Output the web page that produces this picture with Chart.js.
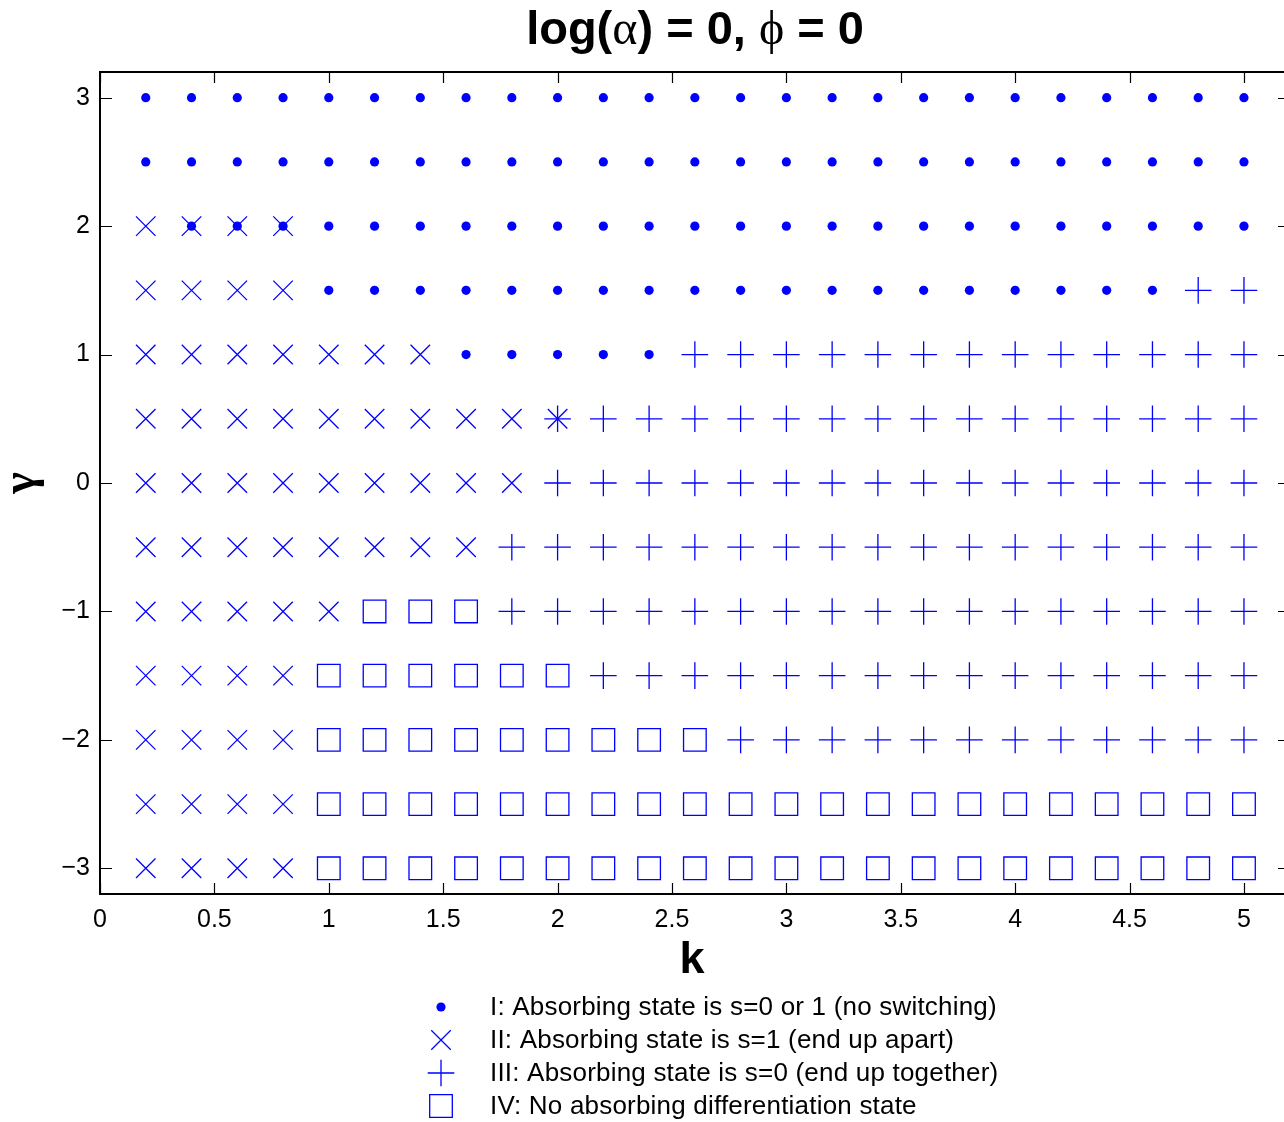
<!DOCTYPE html>
<html>
<head>
<meta charset="utf-8">
<script src="https://cdn.jsdelivr.net/npm/chart.js@4.4.1/dist/chart.umd.min.js"></script>
<style>
  html, body { margin: 0; padding: 0; background: #ffffff; }
  #wrap { width: 1284px; height: 1122px; }
</style>
</head>
<body>
<div id="wrap"><canvas id="regimes" width="1284" height="1122"></canvas></div>
<script>
// Parameter grid
const kValues = [0.2, 0.4, 0.6, 0.8, 1.0, 1.2, 1.4, 1.6, 1.8, 2.0, 2.2, 2.4, 2.6,
                 2.8, 3.0, 3.2, 3.4, 3.6, 3.8, 4.0, 4.2, 4.4, 4.6, 4.8, 5.0];
const gammaValues = [3, 2.5, 2, 1.5, 1, 0.5, 0, -0.5, -1, -1.5, -2, -2.5, -3];

// Regime found at each (k, gamma); one row per gamma, one code per k (groups of five).
//   o = I, x = II, + = III, s = IV, b = I and II, * = II and III
const regimeRows = [
  'ooooo ooooo ooooo ooooo ooooo',   // gamma = 3
  'ooooo ooooo ooooo ooooo ooooo',   // gamma = 2.5
  'xbbbo ooooo ooooo ooooo ooooo',   // gamma = 2
  'xxxxo ooooo ooooo ooooo ooo++',   // gamma = 1.5
  'xxxxx xxooo oo+++ +++++ +++++',   // gamma = 1
  'xxxxx xxxx* +++++ +++++ +++++',   // gamma = 0.5
  'xxxxx xxxx+ +++++ +++++ +++++',   // gamma = 0
  'xxxxx xxx++ +++++ +++++ +++++',   // gamma = -0.5
  'xxxxx sss++ +++++ +++++ +++++',   // gamma = -1
  'xxxxs sssss +++++ +++++ +++++',   // gamma = -1.5
  'xxxxs sssss sss++ +++++ +++++',   // gamma = -2
  'xxxxs sssss sssss sssss sssss',   // gamma = -2.5
  'xxxxs sssss sssss sssss sssss'    // gamma = -3
];

const regimeLabels = [
  'I: Absorbing state is s=0 or 1 (no switching)',
  'II: Absorbing state is s=1 (end up apart)',
  'III: Absorbing state is s=0 (end up together)',
  'IV: No absorbing differentiation state'
];
// Which codes count as members of each regime
const regimeCodes = [['o', 'b'], ['x', 'b', '*'], ['+', '*'], ['s']];

const xTicks = [0, 0.5, 1, 1.5, 2, 2.5, 3, 3.5, 4, 4.5, 5];
const yTicks = [-3, -2, -1, 0, 1, 2, 3];

const BLUE = '#0000ff';
const FONT = "'Liberation Sans', Arial, Helvetica, sans-serif";
const SERIF = "'Liberation Serif', 'DejaVu Serif', serif";
// the axes box continues a few pixels past the right edge of the canvas
const BOX_OVERHANG = 6;

const markerStyles = [
  { pointStyle: 'circle',   radius: 4.6, fill: true },
  { pointStyle: 'crossRot', radius: 13.8 },
  { pointStyle: 'cross',    radius: 13.3 },
  { pointStyle: 'rect',     radius: 16 }
];

function pointsFor(regimeIndex) {
  const pts = [];
  regimeRows.forEach((row, r) => {
    const codes = row.replace(/\s+/g, '').split('');
    codes.forEach((c, i) => {
      if (regimeCodes[regimeIndex].includes(c)) pts.push({ x: kValues[i], y: gammaValues[r] });
    });
  });
  return pts;
}

const datasets = regimeLabels.map((label, i) => {
  const m = markerStyles[i];
  return {
    label,
    data: pointsFor(i),
    showLine: false,
    pointStyle: m.pointStyle,
    pointRadius: m.radius,
    pointBackgroundColor: m.fill ? BLUE : 'rgba(0,0,0,0)',
    pointBorderColor: BLUE,
    pointBorderWidth: m.fill ? 0 : 1.3
  };
});

// Draws one marker by hand (used for the legend)
function drawMarker(ctx, style, x, y) {
  ctx.save();
  ctx.strokeStyle = BLUE;
  ctx.fillStyle = BLUE;
  ctx.lineWidth = 1.3;
  ctx.beginPath();
  if (style.pointStyle === 'circle') {
    ctx.arc(x, y, style.radius, 0, Math.PI * 2);
    ctx.fill();
  } else if (style.pointStyle === 'crossRot') {
    const d = style.radius * Math.SQRT1_2;
    ctx.moveTo(x - d, y - d); ctx.lineTo(x + d, y + d);
    ctx.moveTo(x - d, y + d); ctx.lineTo(x + d, y - d);
    ctx.stroke();
  } else if (style.pointStyle === 'cross') {
    const d = style.radius;
    ctx.moveTo(x - d, y); ctx.lineTo(x + d, y);
    ctx.moveTo(x, y - d); ctx.lineTo(x, y + d);
    ctx.stroke();
  } else {
    const d = style.radius * Math.SQRT1_2;
    ctx.rect(x - d, y - d, 2 * d, 2 * d);
    ctx.stroke();
  }
  ctx.restore();
}

// Title with Greek letters set in a serif face
const titlePlugin = {
  id: 'mixedTitle',
  afterDraw(chart) {
    const ctx = chart.ctx;
    const area = chart.chartArea;
    const bold = 'bold 47px ' + FONT;
    const greek = '48px ' + SERIF;
    const parts = [
      ['log(', bold], ['\u03B1', greek], [') = 0, ', bold], ['\u03D5', greek], [' = 0', bold]
    ];
    ctx.save();
    ctx.fillStyle = '#000';
    ctx.textBaseline = 'alphabetic';
    let total = 0;
    parts.forEach(p => { ctx.font = p[1]; total += ctx.measureText(p[0]).width; });
    let x = (area.left + area.right + BOX_OVERHANG) / 2 - total / 2;
    parts.forEach(p => {
      ctx.font = p[1];
      ctx.fillText(p[0], x, 44);
      x += ctx.measureText(p[0]).width;
    });
    ctx.restore();
  }
};

// Axes box with inward tick marks on all four sides
const framePlugin = {
  id: 'frame',
  afterDraw(chart) {
    const ctx = chart.ctx;
    const { left, top, bottom } = chart.chartArea;
    const right = chart.chartArea.right + BOX_OVERHANG;
    const xs = chart.scales.x, ys = chart.scales.y;
    ctx.save();
    ctx.strokeStyle = '#000';
    ctx.lineWidth = 1.2;
    ctx.beginPath();
    xTicks.forEach(v => {
      const px = Math.round(xs.getPixelForValue(v)) + 0.5;
      ctx.moveTo(px, bottom); ctx.lineTo(px, bottom - 11);
      ctx.moveTo(px, top); ctx.lineTo(px, top + 11);
    });
    yTicks.forEach(v => {
      const py = Math.round(ys.getPixelForValue(v)) + 0.5;
      ctx.moveTo(left, py); ctx.lineTo(left + 12, py);
      ctx.moveTo(right, py); ctx.lineTo(right - 12, py);
    });
    ctx.stroke();
    ctx.lineWidth = 2;
    ctx.strokeRect(left, top, right - left, bottom - top);
    ctx.restore();
  }
};

// Stacked legend below the axes
const legendPlugin = {
  id: 'stackedLegend',
  afterDraw(chart) {
    const ctx = chart.ctx;
    ctx.save();
    ctx.font = '26px ' + FONT;
    if ('letterSpacing' in ctx) ctx.letterSpacing = '0.2px';
    ctx.fillStyle = '#000';
    ctx.textBaseline = 'middle';
    ctx.textAlign = 'left';
    chart.data.datasets.forEach((ds, i) => {
      const y = 1007 + i * 33;
      drawMarker(ctx, markerStyles[i], 441, y);
      ctx.fillText(ds.label, 490, y + 1);
    });
    ctx.restore();
  }
};

new Chart(document.getElementById('regimes'), {
  type: 'scatter',
  data: { datasets },
  options: {
    responsive: false,
    animation: false,
    events: [],
    layout: { autoPadding: false, padding: { top: 72, right: 0, bottom: 0, left: 0 } },
    plugins: {
      legend: { display: false },
      title: { display: false },
      tooltip: { enabled: false }
    },
    scales: {
      x: {
        type: 'linear',
        min: 0,
        max: 5.175,
        afterBuildTicks: s => { s.ticks = xTicks.map(v => ({ value: v })); },
        afterFit: s => { s.height = 228; s.paddingLeft = 0; s.paddingRight = 0; },
        grid: { display: false, drawTicks: false },
        border: { display: false },
        ticks: {
          color: '#000',
          padding: 11,
          maxRotation: 0,
          autoSkip: false,
          font: { family: FONT, size: 25 },
          callback: v => String(v)
        },
        title: {
          display: true,
          text: 'k',
          color: '#000',
          font: { family: FONT, size: 45, weight: 'bold' },
          padding: { top: 0, bottom: 134 }
        }
      },
      y: {
        type: 'linear',
        min: -3.2,
        max: 3.2,
        afterBuildTicks: s => { s.ticks = yTicks.map(v => ({ value: v })); },
        afterFit: s => { s.width = 100; },
        grid: { display: false, drawTicks: false },
        border: { display: false },
        ticks: {
          color: '#000',
          padding: 10,
          autoSkip: false,
          font: { family: FONT, size: 25 },
          callback: v => (v < 0 ? '\u2212' + Math.abs(v) : String(v))
        },
        title: {
          display: true,
          text: '\u03B3',
          color: '#000',
          font: { family: SERIF, size: 46, weight: 'bold' },
          padding: { top: -5, bottom: 0 }
        }
      }
    }
  },
  plugins: [titlePlugin, framePlugin, legendPlugin]
});
</script>
</body>
</html>
